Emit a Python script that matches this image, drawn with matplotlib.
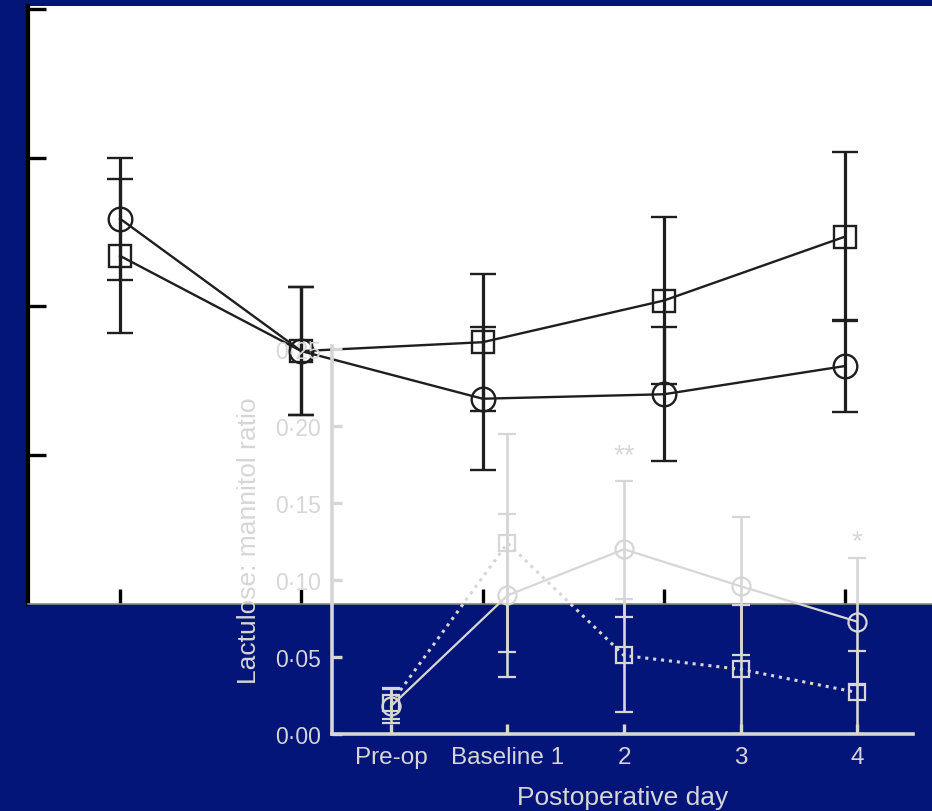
import matplotlib.pyplot as plt
from matplotlib.ticker import FuncFormatter

# Study days
days = [0, 1, 2, 3, 4]
day_labels = ['Pre-op', 'Baseline 1', '2', '3', '4']

# Underlying panel (axis without labels)
back_circle = [0.259, 0.170, 0.138, 0.141, 0.160]
back_circle_err = [0.041, 0.043, 0.048, 0.045, 0.031]
back_square = [0.234, 0.170, 0.176, 0.204, 0.247]
back_square_err = [0.052, 0.043, 0.046, 0.056, 0.057]

# Lactulose: mannitol ratio
ratio_circle = [0.018, 0.090, 0.120, 0.096, 0.073]
ratio_circle_err = [0.011, 0.053, 0.044, 0.045, 0.041]
ratio_square = [0.020, 0.124, 0.051, 0.042, 0.027]
ratio_square_err = [0.010, 0.071, 0.037, 0.042, 0.027]

# Significance marks
star_days = [2, 4]
star_text = ['**', '*']
star_y = [0.181, 0.125]

navy = '#04157a'
ink = '#1e1e1e'
pale = '#d6d6d6'

plt.rcParams['font.family'] = ['Liberation Sans', 'DejaVu Sans']

fig = plt.figure(figsize=(9.32, 8.12), dpi=100, facecolor=navy)
W, H = 932, 812


def px_axes(left, top, right, bottom):
    return fig.add_axes([left / W, (H - bottom) / H, (right - left) / W, (bottom - top) / H])


# back panel
ax1 = px_axes(28, 7, 934, 605)
ax1.set_facecolor('white')
ax1.errorbar(days, back_circle, yerr=back_circle_err, color=ink, lw=1.7,
             marker='o', ms=17, mfc='none', mew=1.7, elinewidth=2.3,
             capsize=9.5, capthick=2.3)
ax1.errorbar(days, back_square, yerr=back_square_err, color=ink, lw=1.7,
             marker='s', ms=16, mfc='none', mew=1.7, elinewidth=2.3,
             capsize=9.5, capthick=2.3)
ax1.set_xlim(-0.508, 4.49)
ax1.set_ylim(0, 0.402)
ax1.set_yticks([0.1, 0.2, 0.3, 0.4])
ax1.set_xticks(days)
ax1.tick_params(axis='y', direction='in', length=13, width=2.4, color='black',
                labelleft=False)
ax1.tick_params(axis='x', direction='in', length=11, width=2.4, color='black',
                labelbottom=False)
for s in ['top', 'right']:
    ax1.spines[s].set_visible(False)
ax1.spines['left'].set_linewidth(3)
ax1.spines['left'].set_color('black')
ax1.spines['bottom'].set_linewidth(1.2)
ax1.spines['bottom'].set_color('#888888')

# ratio chart drawn over it
ax2 = px_axes(332, 347, 913, 735)
ax2.patch.set_alpha(0)
ax2.errorbar(days, ratio_circle, yerr=ratio_circle_err, color=pale, lw=1.6,
             marker='o', ms=13, mfc='none', mew=1.6, elinewidth=1.9,
             capsize=6.5, capthick=1.9, zorder=3)
sq = ax2.errorbar(days, ratio_square, yerr=ratio_square_err, color=pale, lw=2.2,
                  marker='s', ms=12, mfc='none', mew=1.6, elinewidth=1.9,
                  capsize=6.5, capthick=1.9, zorder=3)
sq[0].set_dashes((1, 1.6))
for d, t, y in zip(star_days, star_text, star_y):
    ax2.text(d, y, t, color=pale, fontsize=20, ha='center', va='center')

ax2.set_xlim(-0.506, 4.48)
ax2.set_ylim(0, 0.252)
ax2.set_yticks([0, 0.05, 0.10, 0.15, 0.20, 0.25])
ax2.yaxis.set_major_formatter(FuncFormatter(lambda v, p: f'{v:.2f}'.replace('.', '\u00b7')))
ax2.set_xticks(days)
ax2.set_xticklabels(day_labels)
ax2.tick_params(direction='in', length=7, width=2.4, color=pale,
                labelcolor=pale, pad=8)
ax2.tick_params(axis='y', labelsize=16.5)
ax2.tick_params(axis='x', labelsize=17.5, pad=9)
for s in ['top', 'right']:
    ax2.spines[s].set_visible(False)
for s in ['left', 'bottom']:
    ax2.spines[s].set_color(pale)
    ax2.spines[s].set_linewidth(2.6)
ax2.set_xlabel('Postoperative day', color=pale, fontsize=19, labelpad=12)
ax2.set_ylabel('Lactulose: mannitol ratio', color=pale, fontsize=19, labelpad=10)

fig.savefig('out.png', dpi=100, facecolor=navy)
